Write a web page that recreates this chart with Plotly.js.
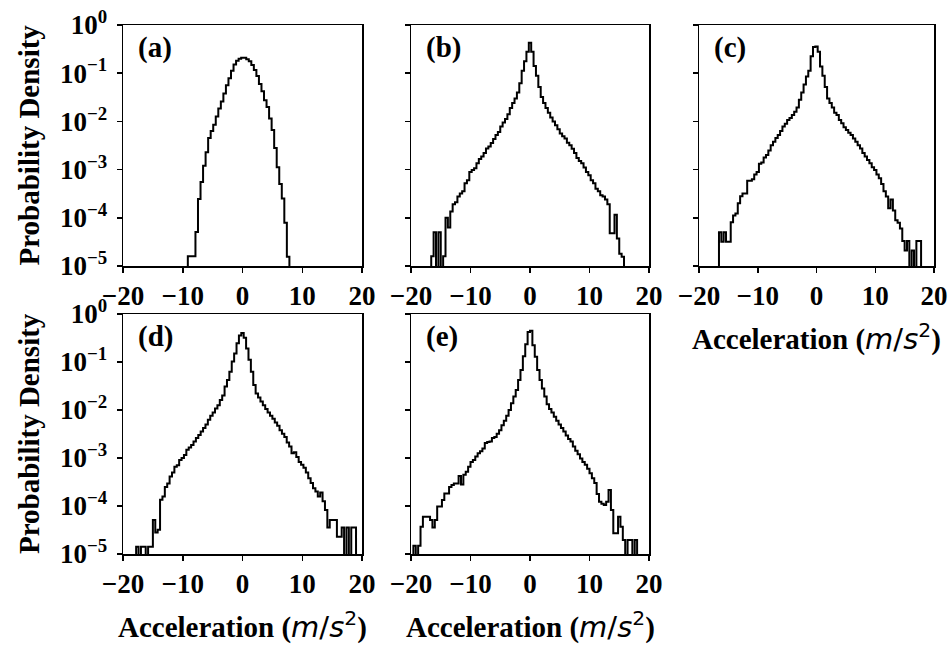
<!DOCTYPE html>
<html>
<head>
<meta charset="utf-8">
<script src="https://cdn.plot.ly/plotly-3.0.1.min.js"></script>
<style>html,body{margin:0;padding:0;background:#fff;}#chart{width:951px;height:646px;}</style>
</head>
<body>
<div id="chart"></div>
<script>
// ---- data (probability density per bin; bins given by first edge and width) ----
const panelLabels = ["(a)", "(b)", "(c)", "(d)", "(e)"];
const xTickValues = [-20, -10, 0, 10, 20];
const yTickValues = [1e-5, 1e-4, 1e-3, 1e-2, 1e-1, 1e0];
const yTickLabels = ["10<sup>\u22125</sup>", "10<sup>\u22124</sup>", "10<sup>\u22123</sup>", "10<sup>\u22122</sup>", "10<sup>\u22121</sup>", "10<sup>0</sup>"];

const aBins = [-9.15, 0.425];
const aDensity = [1.6e-5,1.6e-5,1.6e-5,5.1e-5,2.45e-4,5.5e-4,1.2e-3,2.3e-3,4.5e-3,6.3e-3,
  8.5e-3,1.26e-2,1.86e-2,2.6e-2,3.8e-2,5.6e-2,7.9e-2,1.12e-1,1.51e-1,1.82e-1,
  2.0e-1,2.09e-1,2.09e-1,1.95e-1,1.78e-1,1.48e-1,1.17e-1,8.7e-2,6.0e-2,4.2e-2,
  2.75e-2,2.0e-2,1.15e-2,6.6e-3,2.8e-3,1.12e-3,5.0e-4,2.5e-4,7.9e-5,1.55e-5];

const bBins = [-16.6, 0.4];
const bDensity = [1.6e-5,5.0e-5,0,5.0e-5,0,1.6e-5,1.0e-4,6.3e-5,1.35e-4,1.9e-4,
  2.1e-4,2.75e-4,3.2e-4,3.55e-4,5.2e-4,6.0e-4,8.9e-4,9.8e-4,1.07e-3,1.35e-3,
  1.66e-3,1.86e-3,2.2e-3,2.75e-3,3.0e-3,3.55e-3,4.3e-3,5.2e-3,6.0e-3,7.8e-3,
  9.5e-3,1.12e-2,1.41e-2,1.9e-2,2.4e-2,3.0e-2,4.0e-2,6.2e-2,1.12e-1,1.78e-1,
  2.8e-1,4.3e-1,2.8e-1,1.41e-1,8.9e-2,5.2e-2,3.2e-2,2.4e-2,1.9e-2,1.51e-2,
  1.2e-2,1.0e-2,8.3e-3,6.9e-3,5.6e-3,4.9e-3,4.4e-3,3.6e-3,3.2e-3,2.7e-3,
  2.2e-3,1.74e-3,1.51e-3,1.35e-3,1.1e-3,8.9e-4,7.6e-4,6.0e-4,5.2e-4,4.0e-4,
  3.55e-4,2.95e-4,2.75e-4,2.4e-4,1.9e-4,4.8e-5,4.8e-5,1.15e-4,3.7e-5,1.8e-5,1.55e-5];

const cBins = [-16.6, 0.4];
const cDensity = [5.0e-5,3.2e-5,5.0e-5,3.2e-5,3.2e-5,8.1e-5,1.12e-4,1.23e-4,2.0e-4,2.8e-4,
  3.2e-4,3.2e-4,5.9e-4,5.9e-4,6.3e-4,7.9e-4,8.9e-4,1.32e-3,1.41e-3,1.78e-3,
  2.0e-3,2.5e-3,3.2e-3,3.8e-3,4.5e-3,5.2e-3,6.3e-3,7.8e-3,8.9e-3,1.07e-2,
  1.17e-2,1.35e-2,1.58e-2,1.95e-2,2.8e-2,4.0e-2,5.8e-2,8.5e-2,1.12e-1,2.24e-1,
  3.5e-1,3.6e-1,2.8e-1,1.38e-1,8.9e-2,5.2e-2,3.0e-2,2.4e-2,1.95e-2,1.51e-2,
  1.35e-2,1.07e-2,9.1e-3,7.6e-3,6.6e-3,5.8e-3,5.2e-3,4.4e-3,3.8e-3,3.2e-3,
  2.75e-3,2.2e-3,1.86e-3,1.58e-3,1.35e-3,1.12e-3,9.8e-4,7.9e-4,6.6e-4,5.0e-4,
  3.55e-4,2.75e-4,1.58e-4,2.4e-4,1.41e-4,8.9e-5,7.9e-5,6.0e-5,3.3e-5,2.1e-5,
  3.3e-5,0,2.1e-5,0,3.3e-5,3.3e-5];

const dBins = [-17.8, 0.4];
const dDensity = [1.41e-5,0,1.41e-5,1.41e-5,0,1.41e-5,1.41e-5,5.1e-5,2.8e-5,3.2e-5,
  1.35e-4,1.58e-4,2.5e-4,2.95e-4,4.1e-4,5.0e-4,6.6e-4,7.1e-4,9.1e-4,1.0e-3,
  1.15e-3,1.48e-3,1.66e-3,1.86e-3,2.2e-3,2.6e-3,3.0e-3,3.55e-3,4.2e-3,5.0e-3,
  6.3e-3,7.6e-3,8.9e-3,1.07e-2,1.26e-2,1.62e-2,2.0e-2,3.1e-2,4.2e-2,6.3e-2,
  1.02e-1,1.51e-1,2.45e-1,3.55e-1,4.0e-1,3.2e-1,1.9e-1,1.12e-1,6.3e-2,3.3e-2,
  2.2e-2,1.82e-2,1.51e-2,1.26e-2,1.05e-2,8.9e-3,7.6e-3,6.6e-3,5.5e-3,4.7e-3,
  3.8e-3,3.2e-3,2.75e-3,2.1e-3,1.74e-3,1.26e-3,1.32e-3,1.05e-3,8.3e-4,7.2e-4,
  6.3e-4,5.0e-4,3.8e-4,3.0e-4,2.35e-4,2.0e-4,1.58e-4,1.9e-4,1.26e-4,8.3e-5,
  3.55e-5,5.1e-5,5.1e-5,5.1e-5,2.3e-5,2.3e-5,3.55e-5,0,3.55e-5,0,3.55e-5,3.55e-5];

const eBins = [-19.6, 0.4];
const eDensity = [1.48e-5,0,1.48e-5,3.7e-5,6.0e-5,6.0e-5,6.0e-5,5.1e-5,3.55e-5,5.1e-5,
  9.8e-5,9.8e-5,1.33e-4,1.82e-4,1.82e-4,2.5e-4,2.75e-4,2.95e-4,2.95e-4,4.2e-4,
  2.8e-4,4.5e-4,5.2e-4,6.6e-4,8.3e-4,9.1e-4,1.07e-3,1.26e-3,1.38e-3,1.58e-3,
  2.05e-3,2.15e-3,2.2e-3,2.6e-3,2.75e-3,3.2e-3,3.8e-3,4.8e-3,6.0e-3,7.6e-3,
  1.0e-2,1.38e-2,1.9e-2,2.6e-2,4.2e-2,6.8e-2,1.32e-1,2.35e-1,4.2e-1,4.5e-1,
  2.24e-1,1.29e-1,6.8e-2,4.2e-2,2.8e-2,1.9e-2,1.32e-2,1.05e-2,8.9e-3,7.2e-3,
  6.0e-3,5.0e-3,4.2e-3,3.55e-3,2.95e-3,2.5e-3,2.2e-3,1.74e-3,1.41e-3,1.2e-3,
  9.8e-4,8.3e-4,7.2e-4,6.0e-4,4.8e-4,3.8e-4,3.0e-4,1.78e-4,1.23e-4,1.12e-4,
  1.05e-4,1.23e-4,2.15e-4,8.3e-5,2.7e-5,2.7e-5,6.0e-5,3.7e-5,1.95e-5,0,
  1.95e-5,1.95e-5,0,1.95e-5];

// ---- build step outlines (matplotlib histtype="step" look) ----
const FLOOR = 1e-9; // empty bins fall below the visible range
function stepTrace(bins, dens, xa, ya) {
  const start = bins[0], w = bins[1];
  const x = [start], y = [FLOOR];
  for (let i = 0; i < dens.length; i++) {
    x.push(start + i * w);
    y.push(dens[i] > 0 ? dens[i] : FLOOR);
  }
  const end = start + dens.length * w;
  const last = dens[dens.length - 1] > 0 ? dens[dens.length - 1] : FLOOR;
  x.push(end); y.push(last);
  x.push(end); y.push(FLOOR);
  return {x: x, y: y, xaxis: xa, yaxis: ya, type: "scatter", mode: "lines",
          line: {shape: "hv", color: "#000", width: 2}, hoverinfo: "skip"};
}

const traces = [
  stepTrace(aBins, aDensity, "x", "y"),
  stepTrace(bBins, bDensity, "x2", "y2"),
  stepTrace(cBins, cDensity, "x3", "y3"),
  stepTrace(dBins, dDensity, "x4", "y4"),
  stepTrace(eBins, eDensity, "x5", "y5")
];

const serif = "Liberation Serif, Times New Roman, serif";
const tickFont = {family: serif, size: 27, color: "#000", weight: "bold"};

function xAxis(domain, anchor) {
  return {domain: domain, anchor: anchor, range: [-20, 20], tickmode: "array", tickvals: xTickValues,
    ticks: "outside", ticklen: 5, tickwidth: 1.5, tickcolor: "#000",
    showline: true, linecolor: "#000", linewidth: 1.5, mirror: true,
    showgrid: false, zeroline: false, tickfont: tickFont, fixedrange: true};
}
function yAxis(domain, anchor, labels) {
  return {domain: domain, anchor: anchor, type: "log", range: [-5, 0],
    tickmode: "array", tickvals: yTickValues, ticktext: yTickLabels, showticklabels: labels,
    ticks: "outside", ticklen: 5, tickwidth: 1.5, tickcolor: "#000", ticklabelstandoff: 4,
    showline: true, linecolor: "#000", linewidth: 1.5, mirror: true,
    showgrid: false, zeroline: false, tickfont: tickFont, fixedrange: true};
}

const W = 951, H = 646;
const col1 = [123 / W, 362 / W], col2 = [411 / W, 649 / W], col3 = [699 / W, 934 / W];
const row1 = [1 - 266 / H, 1 - 25 / H], row2 = [1 - 554 / H, 1 - 314 / H];

const accelTitle = 'Acceleration (<span style="font-family:DejaVu Sans;font-weight:normal"><i>m</i>/<i>s</i><sup>2</sup></span>)';
const titleFont = {family: serif, size: 29, color: "#000", weight: "bold"};
const labelFont = {family: serif, size: 29, color: "#000", weight: "bold"};

const annotations = [];
const panelAxes = [["x", "y"], ["x2", "y2"], ["x3", "y3"], ["x4", "y4"], ["x5", "y5"]];
panelAxes.forEach(function (ax, i) {
  annotations.push({text: panelLabels[i], xref: ax[0] + " domain", yref: ax[1] + " domain",
    x: 0.055, y: 0.905, xanchor: "left", yanchor: "middle", showarrow: false, font: labelFont});
});
[row1, row2].forEach(function (r) {
  annotations.push({text: "Probability Density", xref: "paper", yref: "paper",
    x: 29 / W, y: (r[0] + r[1]) / 2, xanchor: "center", yanchor: "middle",
    textangle: -90, showarrow: false, font: titleFont});
});
[[col3, 337], [col1, 625], [col2, 625]].forEach(function (p) {
  annotations.push({text: accelTitle, xref: "paper", yref: "paper",
    x: (p[0][0] + p[0][1]) / 2, y: 1 - p[1] / H, xanchor: "center", yanchor: "middle",
    showarrow: false, font: titleFont});
});

const layout = {
  width: W, height: H, margin: {l: 0, r: 0, t: 0, b: 0},
  paper_bgcolor: "#fff", plot_bgcolor: "#fff", showlegend: false,
  xaxis: xAxis(col1, "y"), yaxis: yAxis(row1, "x", true),
  xaxis2: xAxis(col2, "y2"), yaxis2: yAxis(row1, "x2", false),
  xaxis3: xAxis(col3, "y3"), yaxis3: yAxis(row1, "x3", false),
  xaxis4: xAxis(col1, "y4"), yaxis4: yAxis(row2, "x4", true),
  xaxis5: xAxis(col2, "y5"), yaxis5: yAxis(row2, "x5", false),
  annotations: annotations
};

Plotly.newPlot("chart", traces, layout, {displayModeBar: false, staticPlot: true});
</script>
</body>
</html>
